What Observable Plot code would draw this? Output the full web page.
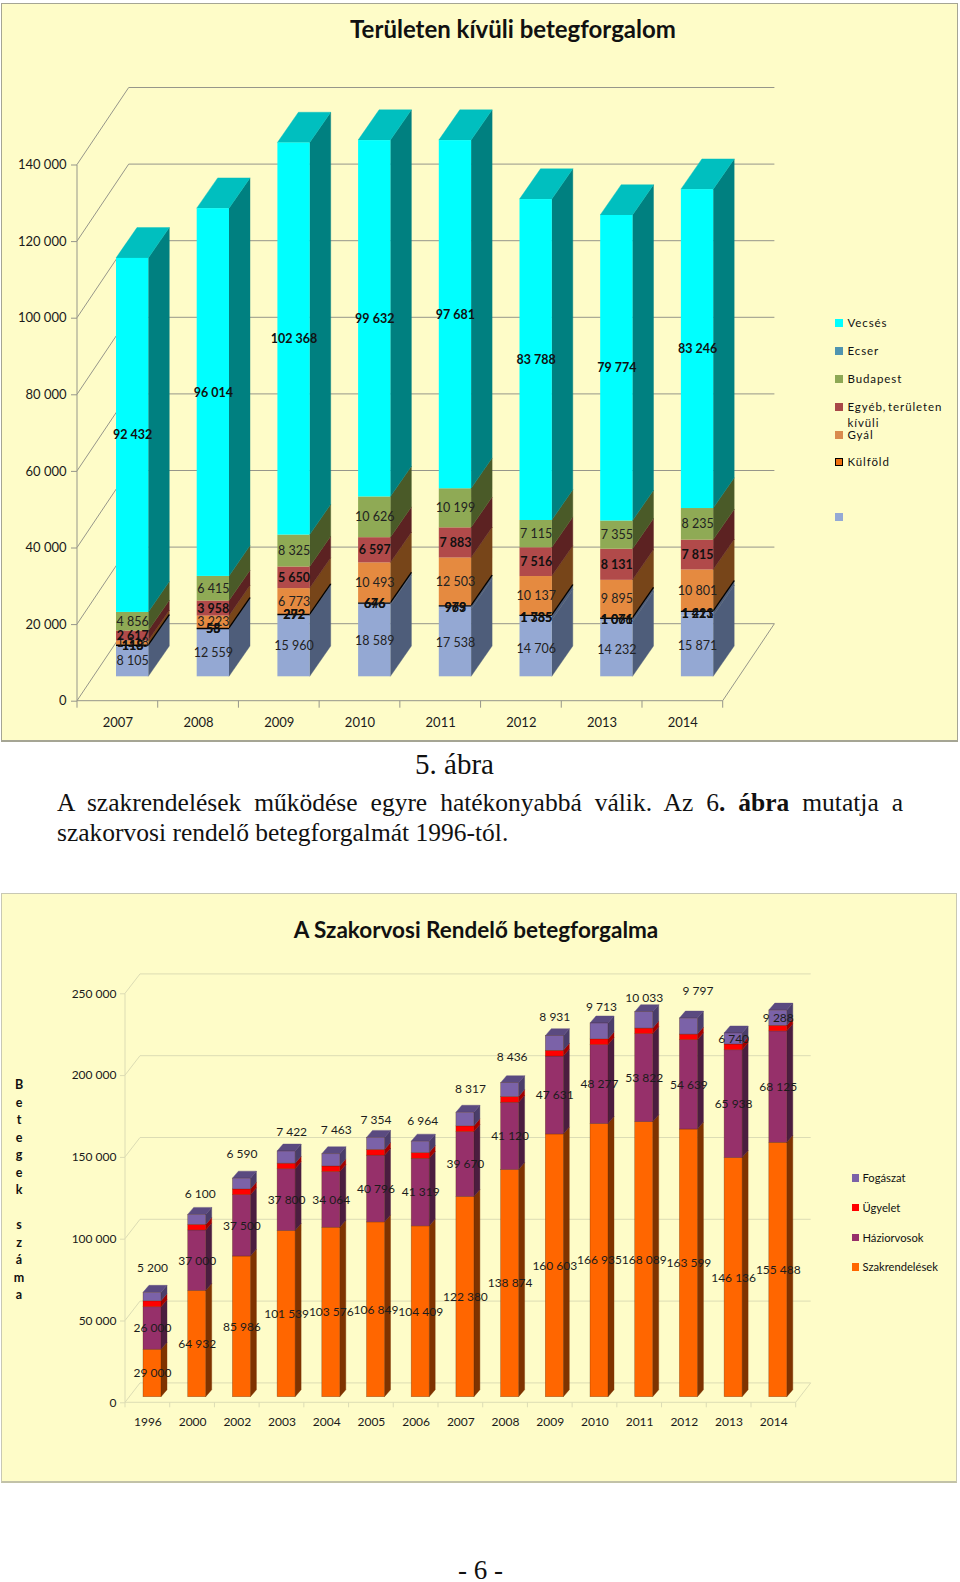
<!DOCTYPE html>
<html lang="hu"><head><meta charset="utf-8">
<script src="https://cdn.jsdelivr.net/npm/d3@7"></script>
<script src="https://cdn.jsdelivr.net/npm/@observablehq/plot@0.6"></script>
<style>
html,body{margin:0;padding:0;background:#fff;width:960px;height:1582px;overflow:hidden}
#page{position:relative;width:960px;height:1582px;font-family:Lato,sans-serif;color:#111}
.panel{position:absolute;background:#FEFCC8;box-sizing:border-box}
.abs{position:absolute;white-space:pre}
.serif{font-family:"Liberation Serif",serif;color:#111}
svg{position:absolute;left:0;background:transparent}
.sw{position:absolute;width:8px;height:8px;box-sizing:border-box}
</style></head><body><div id="page"></div>
<script>
// ---------- chart 1: Területen kívüli betegforgalom ----------
const years1 = ["2007","2008","2009","2010","2011","2012","2013","2014"];
const alap     = [8105,12559,15960,18589,17538,14706,14232,15871];
const kulfold  = [118,55,292,646,969,1335,1061,1213];
const gyal     = [1118,3223,6773,10493,12503,10137,9895,10801];
const egyeb    = [2617,3958,5650,6597,7883,7516,8131,7815];
const budapest = [4856,6415,8325,10626,10199,7115,7355,8235];
const vecses   = [92432,96014,102368,99632,97681,83788,79774,83246];
const overlayLabels1 = ["115","58","272","676","973","1 785","1 076","1 421"];
const ticks1 = [0,20000,40000,60000,80000,100000,120000,140000];
const names1 = ["Alap","Külföld","Gyál","Egyéb, területen kívüli","Budapest","Vecsés"];
const values1 = [alap,kulfold,gyal,egyeb,budapest,vecses];
const front1 = ["#94A8D3","#94A8D3","#E58A40","#B14A4A","#8FAA55","#00FFFF"];
const side1  = ["#4E5D7A","#4E5D7A","#774519","#5C2222","#4A5A28","#008080"];
const top1   = "#00BFBF";
const bold1  = ["Külföld","Egyéb, területen kívüli","Vecsés"];
const legend1 = [["Vecsés","#00FFFF"],["Ecser","#4F94B0"],["Budapest","#8DA854"],["Egyéb, területen\nkívüli","#A84848"],["Gyál","#D98B4E"],["Külföld","#F07010"],["","#94A9D5"]];

// ---------- chart 2: A Szakorvosi Rendelő betegforgalma ----------
const years2 = ["1996","2000","2002","2003","2004","2005","2006","2007","2008","2009","2010","2011","2012","2013","2014"];
const szakrendeles = [29000,64932,85986,101539,103576,106849,104409,122380,138874,160603,166935,168089,163599,146136,155488];
const haziorvos    = [26000,37000,37500,37800,34064,40796,41319,39670,41120,47631,48277,53822,54639,65938,68125];
const ugyelet      = [3600,3400,3500,3400,3400,3500,3500,3500,3500,3500,3500,3400,3400,3500,3400];
const fogaszat     = [5200,6100,6590,7422,7463,7354,6964,8317,8436,8931,9713,10033,9797,6740,9288];
const ticks2 = [0,50000,100000,150000,200000,250000];
const names2 = ["Szakrendelések","Háziorvosok","Ügyelet","Fogászat"];
const values2 = [szakrendeles,haziorvos,ugyelet,fogaszat];
const front2 = ["#FF6600","#96306A","#FF0000","#7B62A8"];
const side2  = ["#7F3300","#4B1D3F","#A00000","#4A3D6A"];
const top2   = "#5A4A80";
const legend2 = [["Fogászat","#7B62A8"],["Ügyelet","#FF0000"],["Háziorvosok","#96306A"],["Szakrendelések","#FF6600"]];
// hand-moved data labels of the Fogászat series in the original (px)
const fogNudgeX = [0,3,0,5,5,0,2,5,2,0,2,0,9,0,0];
const fogNudgeY = [-29,-26,-30,-25,-30,-24,-26,-30,-33,-26,-24,-22,-35,0,0];

const fmt = d3.formatLocale({decimal:",",thousands:" ",grouping:[3],currency:["",""]}).format(",d");

function rowsOf(years,names,values,maxV){
  const rows=[];
  years.forEach((year,i)=>{
    let c=0;
    names.forEach((series,s)=>{
      const v=values[s][i];
      rows.push({year,i,series,s,v,y1:Math.min(c,maxV),y2:Math.min(c+v,maxV)});
      c+=v;
    });
  });
  return rows;
}
function bw(x,fallback){const b=x.bandwidth;return typeof b==="function"?b():(b??fallback);}

// 3-D walls, drawn through the y scale
function wallMark(c){
  return (index,{y})=>{
    const g=d3.create("svg:g").attr("fill","none").attr("stroke",c.gridColor).attr("stroke-width",c.gridW);
    const path=(p)=>g.append("path").attr("d","M"+p.map(q=>q.join(",")).join("L"));
    for(const v of c.ticks){
      const Y=y(v)+c.floorDY;
      path([[c.axL,Y],[c.axL+c.wallDX,Y-c.wallDY],[c.axR+c.wallDX,Y-c.wallDY]]);
    }
    const Y0=y(0)+c.floorDY;
    path([[c.axL,y(c.ticks[c.ticks.length-1])+c.floorDY],[c.axL,Y0],[c.axR,Y0],[c.axR+c.wallDX,Y0-c.wallDY]]);
    const step=(c.axR-c.axL)/c.years.length;
    for(let i=0;i<=c.years.length;i++) path([[c.axL+i*step,Y0],[c.axL+i*step,Y0+c.tickLen]]);
    return g.node();
  };
}
// side and top faces of every block, through the x and y scales
function depthMark(c,rows){
  return (index,{x,y})=>{
    const g=d3.create("svg:g");
    const w=bw(x,c.barW);
    const poly=(pts,fill)=>g.append("polygon").attr("points",pts.map(p=>p.join(",")).join(" ")).attr("fill",fill).attr("stroke",fill).attr("stroke-width",.4);
    for(const r of rows){
      const xr=x(r.year)+w, a=y(r.y1), b=y(r.y2);
      poly([[xr,a],[xr,b],[xr+c.barDX,b-c.barDY],[xr+c.barDX,a-c.barDY]],c.side[r.s]);
      if(r.s===c.names.length-1){
        poly([[xr-w,b],[xr,b],[xr+c.barDX,b-c.barDY],[xr-w+c.barDX,b-c.barDY]],c.top);
      }
    }
    for(const r of rows.filter(r=>r.series==="Külföld")){
      const xr=x(r.year)+w, b=y(r.y2);
      g.append("line").attr("x1",xr).attr("y1",b).attr("x2",xr+c.barDX).attr("y2",b-c.barDY).attr("stroke","#000").attr("stroke-width",1.3);
    }
    return g.node();
  };
}

function chart(c){
  const rows=rowsOf(c.years,c.names,c.values,c.maxV);
  const mid=d=>(d.y1+d.y2)/2;
  const marks=[
    wallMark(c),
    depthMark(c,rows),
    Plot.barY(rows,{x:"year",y1:"y1",y2:"y2",fill:"series",stroke:c.barStroke,strokeWidth:.6,strokeOpacity:.45}),
    Plot.axisY({anchor:"left",ticks:c.ticks,tickFormat:fmt,label:null,tickSize:c.ytickSize,tickPadding:c.ytickPad,dy:c.floorDY,stroke:c.gridColor,fontSize:c.axisFont,fill:"#1a1a1a",textStroke:"none"}),
    Plot.text(c.years,{x:d=>d,y:0,text:d=>d,dx:c.xlabDX,dy:c.xlabDY,fontSize:c.axisFont,fill:"#1a1a1a"})
  ];
  c.labels(rows,mid,marks);
  return Plot.plot({
    width:960,height:c.height,
    marginLeft:c.axL,marginRight:0,marginTop:0,marginBottom:0,
    style:{background:"transparent",fontFamily:"Lato, sans-serif",top:c.top0+"px",overflow:"visible"},
    x:{type:"band",domain:c.years,range:[c.x0,c.x0+c.step*(c.years.length-1)+c.barW],paddingInner:1-c.barW/c.step,paddingOuter:0,round:false,axis:null},
    y:{type:"linear",domain:[0,c.maxV],range:[c.y0,c.y0-c.maxPx],axis:null},
    color:{type:"ordinal",domain:c.names,range:c.front},
    marks
  });
}

const page=document.getElementById("page");
function el(cls,css,txt,html){const d=document.createElement("div");d.className=cls;d.style.cssText=css;if(html)d.innerHTML=html;else if(txt!=null)d.textContent=txt;page.appendChild(d);return d;}

el("panel","left:1px;top:3px;width:957px;height:739px;border:1.5px solid #A5A594;border-bottom-width:2px;");
el("panel","left:1px;top:893px;width:956px;height:590px;border:1px solid #C8C8B4;border-bottom:2px solid #C2C2A8;");

page.appendChild(chart({
  years:years1,names:names1,values:values1,front:front1,side:side1,top:top1,ticks:ticks1,
  height:745,top0:0,maxV:140000,maxPx:536.2,y0:676.3,x0:116,step:80.7,barW:32.3,barDX:21,barDY:30.3,
  axL:77,axR:722.7,floorDY:24.4,wallDX:51.7,wallDY:77,gridColor:"#96968A",gridW:1,tickLen:7,
  ytickSize:6,ytickPad:5,axisFont:13,xlabDX:-14.8,xlabDY:46,barStroke:"none",
  labels(rows,mid,marks){
    const plain=rows.filter(r=>!bold1.includes(r.series));
    const heavy=rows.filter(r=>bold1.includes(r.series));
    const thin=rows.filter(r=>r.series==="Külföld");
    marks.push(Plot.tickY(thin,{x:"year",y:"y2",stroke:"#000",strokeWidth:1.4}));
    marks.push(Plot.text(plain,{x:"year",y:mid,text:d=>fmt(d.v),fontSize:12.5,fill:"#222"}));
    marks.push(Plot.text(heavy,{x:"year",y:mid,text:d=>fmt(d.v),fontSize:12.5,fontWeight:700,fill:"#111"}));
    marks.push(Plot.text(thin,{x:"year",y:mid,text:d=>overlayLabels1[d.i],fontSize:12.5,fontWeight:700,fill:"#111"}));
  }
}));

page.appendChild(chart({
  years:years2,names:names2,values:values2,front:front2,side:side2,top:top2,ticks:ticks2,
  height:595,top0:890,maxV:250000,maxPx:409,y0:506.7,x0:143,step:44.7,barW:18,barDX:6,barDY:7,
  axL:125,axR:795.7,floorDY:5.6,wallDX:15,wallDY:19.4,gridColor:"#DCDCB4",gridW:1,tickLen:5,
  ytickSize:5,ytickPad:4,axisFont:12,xlabDX:-4.6,xlabDY:25,barStroke:"#4a2000",
  labels(rows,mid,marks){
    marks.push(Plot.text(rows.filter(r=>r.s<2),{x:"year",y:mid,text:d=>fmt(d.v),fontSize:12,fill:"#1c1c1c"}));
    rows.filter(r=>r.series==="Fogászat").forEach(r=>{
      marks.push(Plot.text([r],{x:"year",y:mid,text:d=>fmt(d.v),fontSize:12,fill:"#1c1c1c",dx:fogNudgeX[r.i],dy:fogNudgeY[r.i]}));
    });
  }
}));

// titles
el("abs","left:0;width:1026px;top:15px;text-align:center;font-weight:700;font-size:24px;line-height:27px","Területen kívüli betegforgalom");
el("abs","left:0;width:952px;top:916px;text-align:center;font-weight:700;font-size:22.5px;line-height:27px","A Szakorvosi Rendelő betegforgalma");
// vertical axis title
el("abs","left:9px;width:20px;top:1076px;text-align:center;font-weight:700;font-size:12.5px;line-height:17.5px","B\ne\nt\ne\ng\ne\nk\n\ns\nz\ná\nm\na");
// legends
const l1y=[323.3,351,378.7,406.7,435,462.3,516.7];
legend1.forEach(([t,col],i)=>{
  el("sw",`left:835px;top:${l1y[i]-4}px;background:${col};`+(t==="Külföld"?"border:1px solid #000;":""));
  if(t) el("abs",`left:847.5px;top:${l1y[i]-8}px;font-size:11.5px;line-height:16px;letter-spacing:.9px;word-spacing:-2px`,t);
});
const l2y=[1178.3,1207.7,1237.7,1267.3];
legend2.forEach(([t,col],i)=>{
  el("sw",`left:851.5px;top:${l2y[i]-4}px;width:7.5px;height:7.5px;background:${col};`);
  el("abs",`left:862.5px;top:${l2y[i]-8}px;font-size:11.2px;line-height:16px`,t);
});
// body text between the charts
el("abs serif","left:0;width:909px;top:746px;text-align:center;font-size:29px;line-height:36px","5. ábra");
el("serif","position:absolute;left:57px;width:846px;top:788px;font-size:25.5px;line-height:30px;text-align:justify;text-align-last:justify;white-space:normal",null,"A szakrendelések működése egyre hatékonyabbá válik. Az 6<b>. ábra</b> mutatja a");
el("abs serif","left:57px;top:818px;font-size:25.5px;line-height:30px","szakorvosi rendelő betegforgalmát 1996-tól.");
el("abs serif","left:0;width:961px;top:1559px;text-align:center;font-size:27px;line-height:22px","- 6 -");
</script></body></html>
